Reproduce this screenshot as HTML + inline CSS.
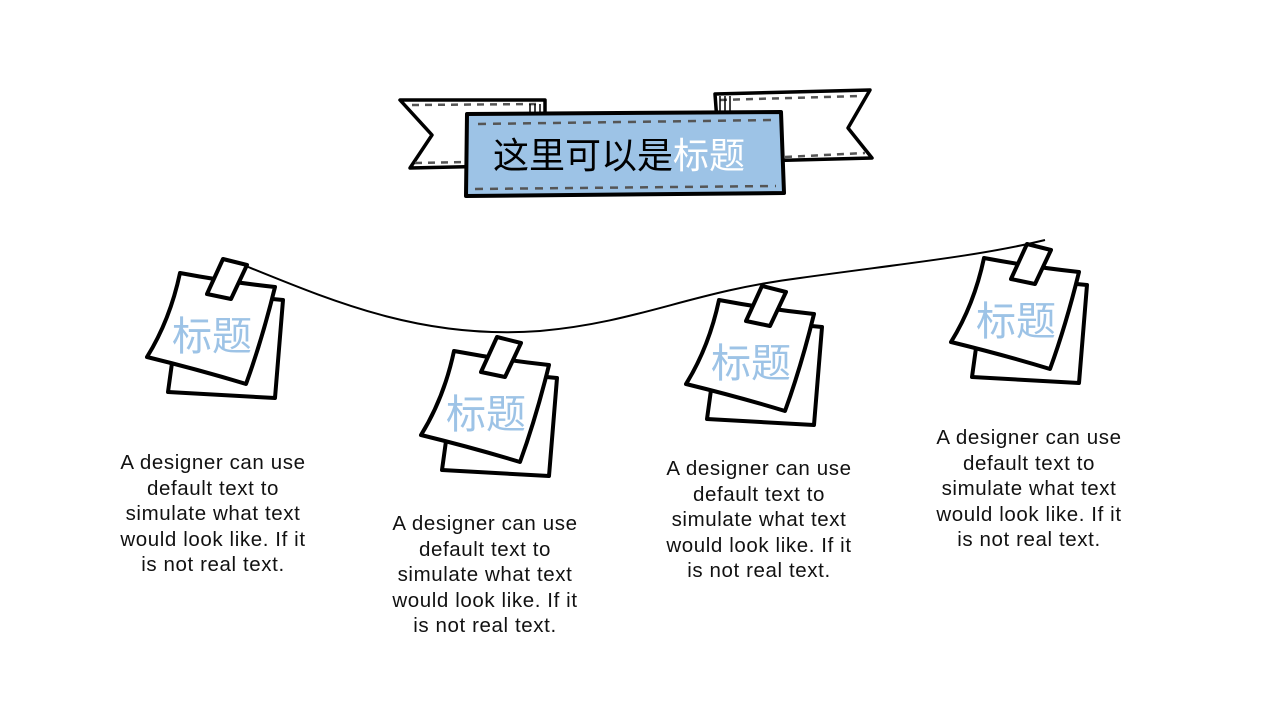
<!DOCTYPE html>
<html><head><meta charset="utf-8"><style>
html,body{margin:0;padding:0;background:#fff;}
body{width:1280px;height:720px;position:relative;overflow:hidden;font-family:"Liberation Sans","Noto Sans CJK SC",sans-serif;}
.t{position:absolute;width:260px;text-align:center;font-size:20.5px;line-height:25.5px;color:#111;letter-spacing:0.6px;white-space:nowrap;}
</style></head><body>
<svg width="1280" height="720" style="position:absolute;left:0;top:0">
<defs>
<g id="note">
<path d="M262,298 L283,300 L275,398 L168,392 L172,363 Z" fill="#fff" stroke="#000" stroke-width="4" stroke-linejoin="round"/>
<path d="M180,273 Q228,282 275,287 Q262,340 246,384 Q200,370 147,357 Q170,320 180,273 Z" fill="#fff" stroke="#000" stroke-width="4" stroke-linejoin="round"/>
<path d="M223,259 L247,265 L231,299 L207,294 Z" fill="#fff" stroke="#000" stroke-width="4" stroke-linejoin="round"/>
<text x="212" y="350" font-size="40" fill="#9dc3e6" text-anchor="middle" font-family="'Noto Sans CJK SC',sans-serif">标题</text>
</g>
</defs>
<path d="M400,100 L545,100 L545,165 L410,168 L432,135 Z" fill="#fff" stroke="#000" stroke-width="3.5" stroke-linejoin="round"/>
<path d="M715,94 L870,90 L848,128 L872,158 L720,162 Z" fill="#fff" stroke="#000" stroke-width="3.5" stroke-linejoin="round"/>
<path d="M412,105 L540,104 M415,163 L465,162 M720,100 L860,96 M785,157 L865,153" stroke="#555" stroke-width="2.5" stroke-dasharray="7,6"/>
<path d="M530,104 v12 M535,104 v12 M540,104 v12 M720,96 v16 M725,96 v16 M730,96 v16" stroke="#000" stroke-width="1.5"/>
<path d="M467,114 L781,112 L784,193 L466,196 Z" fill="#9dc3e6" stroke="#000" stroke-width="4" stroke-linejoin="round"/>
<path d="M478,124 L772,120 M475,189 L776,186" stroke="#555" stroke-width="2.5" stroke-dasharray="8,7"/>
<text x="493" y="168" font-size="36" fill="#000" font-family="'Noto Sans CJK SC',sans-serif">这里可以是<tspan fill="#fff">标题</tspan></text>
<path d="M236,262 C330,300 420,340 540,331 C640,322 690,292 800,278 C900,264 980,256 1045,240" fill="none" stroke="#000" stroke-width="2"/>
<use href="#note"/>
<use href="#note" transform="translate(274,78)"/>
<use href="#note" transform="translate(539,27)"/>
<use href="#note" transform="translate(804,-15)"/>
</svg>
<div class="t" style="left:83px;top:450px">A designer can use<br>default text to<br>simulate what text<br>would look like. If it<br>is not real text.</div>
<div class="t" style="left:355px;top:511px">A designer can use<br>default text to<br>simulate what text<br>would look like. If it<br>is not real text.</div>
<div class="t" style="left:629px;top:456px">A designer can use<br>default text to<br>simulate what text<br>would look like. If it<br>is not real text.</div>
<div class="t" style="left:899px;top:425px">A designer can use<br>default text to<br>simulate what text<br>would look like. If it<br>is not real text.</div>
</body></html>
